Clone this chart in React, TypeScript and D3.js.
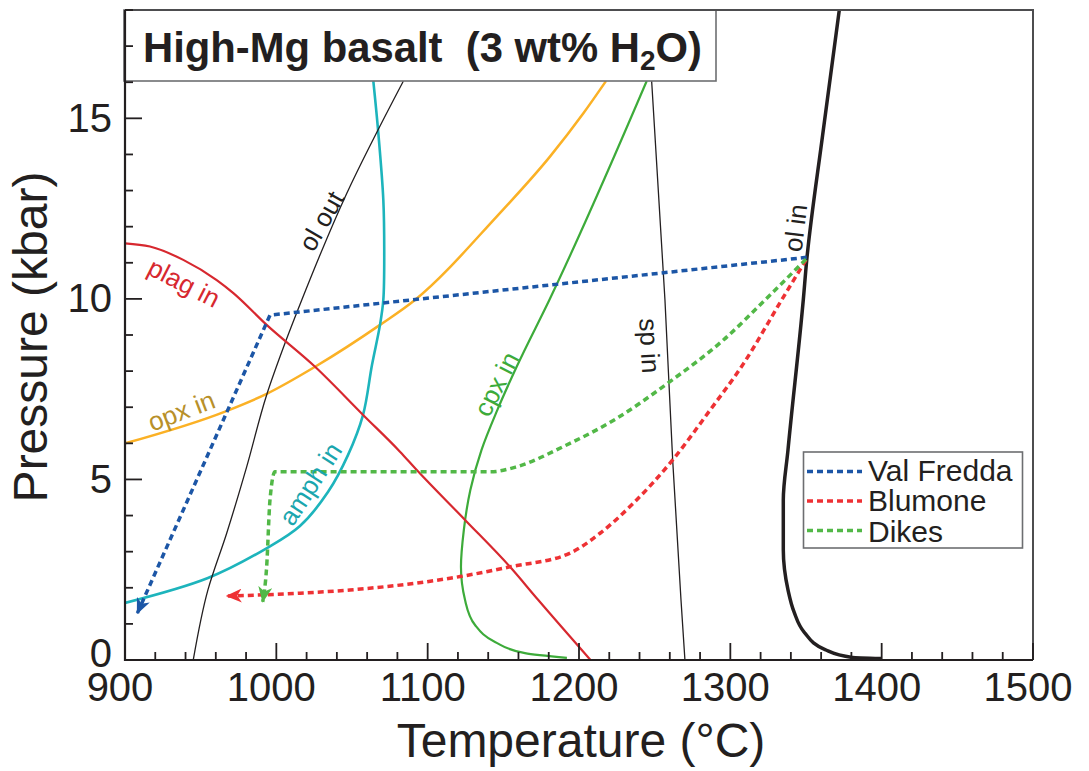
import React from 'react';
import * as d3 from 'd3';

type Pt = [number, number]; // [temperature °C, pressure kbar]

const tempTicks = [900, 1000, 1100, 1200, 1300, 1400, 1500];
const pressTicks = [0, 5, 10, 15];

// phase boundaries
const olIn: Pt[] = [[1372, 18], [1361, 14.54], [1350.5, 11.08], [1348.2, 9.97], [1338.1, 5.82], [1335, 4.43], [1335, 3.05], [1338.1, 1.94], [1342.1, 1.33], [1349, 0.76], [1362.6, 0.29], [1380.7, 0.07], [1400, 0.04]];
const spIn: Pt[] = [[1248, 16.03], [1256.8, 9.97], [1261.9, 5.54], [1267.4, 1.66], [1270, 0]];
const cpxIn: Pt[] = [[1244.7, 16.03], [1180.4, 9.97], [1158.8, 8.12], [1146, 6.92], [1135.6, 5.82], [1128.2, 4.71], [1123.9, 3.6], [1122, 2.58], [1124.7, 1.66], [1131.3, 0.97], [1144.5, 0.5], [1164.3, 0.19], [1192, 0.06]];
const opxIn: Pt[] = [[900, 6.0], [966.1, 6.88], [993.6, 7.37], [1025.6, 8.12], [1068.5, 9.28], [1091.6, 9.97], [1145.6, 12.28], [1180.8, 13.94], [1202.9, 15.14], [1217.8, 16.03]];
const amphIn: Pt[] = [[1064.1, 16.03], [1067.4, 14.59], [1070.7, 12.74], [1071.3, 11.3], [1070.7, 9.97], [1068.5, 9.28], [1063.2, 8.17], [1057.3, 6.79], [1047.4, 5.68], [1034.1, 4.65], [1015.6, 3.71], [993.8, 3.1], [954.8, 2.27], [900, 1.58]];
const olOut: Pt[] = [[1083.9, 16.03], [1046.5, 12.92], [1016.8, 9.97], [1005.7, 8.77], [993.6, 7.34], [980.4, 5.35], [967.2, 3.51], [954.8, 1.94], [945.1, 0]];
const plagIn: Pt[] = [[900, 11.54], [916.5, 11.45], [938.5, 11.08], [960.6, 10.52], [971.6, 10.16], [993.6, 9.28], [1025.6, 8.12], [1057.5, 6.78], [1081.7, 5.77], [1092.8, 5.26], [1124.7, 3.88], [1154.4, 2.58], [1173.1, 1.66], [1207.6, 0]];

// P-T paths
const valFredda: Pt[] = [[1350.5, 11.15], [995.8, 9.55], [908.1, 1.29]];
const blumone: Pt[] = [[1350, 11.08], [1333.9, 9.97], [1308.6, 8.2], [1286.6, 6.92], [1261.9, 5.54], [1235.9, 4.34], [1213.9, 3.51], [1194.1, 2.96], [1154.4, 2.58], [1121.4, 2.31], [1048.7, 1.94], [1015.6, 1.85], [967.2, 1.77]];
const dikes: Pt[] = [[1350, 11.1], [1325.1, 10.06], [1295.4, 8.86], [1260.1, 7.71], [1224.9, 6.69], [1189.6, 5.91], [1158.8, 5.35], [1141.2, 5.21], [999.1, 5.21], [995.8, 4.43], [993.6, 2.58], [991, 1.61]];

const ink = '#231f20';
const cRed = '#d7282f';
const cOrange = '#fbb125';
const cTeal = '#1db4bc';
const cGreen = '#3dab3a';
const cBlue = '#1c56a6';
const cPathRed = '#ee3134';
const cPathGreen = '#52b847';

// 'x' = smooth in temperature, 'y' = smooth in pressure, 'cr' = catmull-rom
const boundaries = [
  { id: 'olIn', data: olIn, color: ink, width: 3.5, along: 'y' },
  { id: 'spIn', data: spIn, color: ink, width: 1.3, along: 'y' },
  { id: 'cpxIn', data: cpxIn, color: cGreen, width: 2.2, along: 'y' },
  { id: 'opxIn', data: opxIn, color: cOrange, width: 2.5, along: 'x' },
  { id: 'amphIn', data: amphIn, color: cTeal, width: 2.6, along: 'cr' },
  { id: 'olOut', data: olOut, color: ink, width: 1.3, along: 'y' },
  { id: 'plagIn', data: plagIn, color: cRed, width: 2.2, along: 'x' },
];

const paths = [
  { name: 'Val Fredda', data: valFredda, color: cBlue, along: 'line', marker: 'arrBlue' },
  { name: 'Blumone', data: blumone, color: cPathRed, along: 'x', marker: 'arrRed' },
  { name: 'Dikes', data: dikes, color: cPathGreen, along: 'x', marker: 'arrGreen' },
];

const curveLabels = [
  { text: 'ol out', t: 1030.8, p: 12.13, angle: -60, color: ink },
  { text: 'plag in', t: 938.5, p: 10.4, angle: 27, color: cRed },
  { text: 'opx in', t: 937.7, p: 6.85, angle: -21, color: '#b8902a' },
  { text: 'amph in', t: 1023.5, p: 4.85, angle: -57, color: '#1aa6ae' },
  { text: 'cpx in', t: 1146.5, p: 7.62, angle: -63, color: cGreen },
  { text: 'sp in', t: 1245.6, p: 8.7, angle: 87, color: ink },
  { text: 'ol in', t: 1344.1, p: 11.96, angle: -83, color: ink },
];

const plot = { left: 125, right: 1033, top: 10, bottom: 660 };
const font = '"Liberation Sans", Arial, Helvetica, sans-serif';

export default function App() {
  const x = d3.scaleLinear().domain([900, 1500]).range([plot.left, plot.right]);
  const y = d3.scaleLinear().domain([0, 18]).range([plot.bottom, plot.top]);

  const gen = (along: string) => {
    const l = d3.line<Pt>().x(d => x(d[0])).y(d => y(d[1]));
    if (along === 'x') return l.curve(d3.curveMonotoneX);
    if (along === 'y') return l.curve(d3.curveMonotoneY);
    if (along === 'cr') return l.curve(d3.curveCatmullRom.alpha(0.5));
    return l;
  };

  const minorT = d3.range(900, 1501, 20);
  const minorP = d3.range(0, 19, 1);

  const arrow = (id: string, color: string) => (
    <marker id={id} viewBox="0 0 16 14" refX={15} refY={7} markerWidth={16} markerHeight={14}
      markerUnits="userSpaceOnUse" orient="auto">
      <path d="M0,0 L16,7 L0,14 L4.5,7 Z" fill={color} />
    </marker>
  );

  return (
    <svg width={1089} height={771} style={{ position: 'absolute', left: 0, top: 0, background: '#fff' }}
      fontFamily={font}>
      <defs>
        <clipPath id="plotClip">
          <rect x={plot.left} y={plot.top} width={plot.right - plot.left} height={plot.bottom - plot.top} />
        </clipPath>
        {arrow('arrBlue', cBlue)}
        {arrow('arrRed', cPathRed)}
        {arrow('arrGreen', cPathGreen)}
      </defs>

      <g clipPath="url(#plotClip)" fill="none">
        {boundaries.map(b => (
          <path key={b.id} d={gen(b.along)(b.data) || ''} stroke={b.color} strokeWidth={b.width} />
        ))}
      </g>

      <g fill="none">
        {paths.map(p => (
          <path key={p.name} d={gen(p.along)(p.data) || ''}
            stroke={p.color} strokeWidth={3.5} strokeDasharray="6 4" markerEnd={`url(#${p.marker})`} />
        ))}
      </g>

      {curveLabels.map(l => (
        <text key={l.text} transform={`translate(${x(l.t)},${y(l.p)}) rotate(${l.angle})`}
          textAnchor="middle" dy="0.28em" fontSize={26} fill={l.color}>{l.text}</text>
      ))}

      {/* title box */}
      <rect x={124} y={plot.top} width={592} height={71} fill="#fff" stroke="#6d6e71" strokeWidth={1.6} />
      <text x={143} y={62} fontSize={41.8} fontWeight="bold" fill={ink} style={{ whiteSpace: 'pre' }}>
        {'High-Mg basalt  (3 wt% H'}
        <tspan fontSize={28} dy={8}>2</tspan>
        <tspan dy={-8}>O)</tspan>
      </text>

      {/* frame */}
      <path d={`M${plot.left},${plot.top}H${plot.right}V${plot.bottom}`} fill="none" stroke="#4d4d4f" strokeWidth={2} />
      <path d={`M${plot.left},${plot.top}V${plot.bottom}H${plot.right}`} fill="none" stroke={ink} strokeWidth={2.2} />

      {/* ticks */}
      {minorT.map(t => {
        const major = t % 100 === 0;
        return <line key={'tx' + t} x1={x(t)} x2={x(t)} y1={plot.bottom} y2={plot.bottom - (major ? 17 : 8)} stroke={ink} strokeWidth={1.8} />;
      })}
      {minorP.map(p => {
        const major = p % 5 === 0;
        return <line key={'ty' + p} x1={plot.left} x2={plot.left + (major ? 17 : 8)} y1={y(p)} y2={y(p)} stroke={ink} strokeWidth={1.8} />;
      })}

      {tempTicks.map(t => (
        <text key={'lx' + t} x={x(t) - 5} y={701} textAnchor="middle" fontSize={40} fill={ink}>{t}</text>
      ))}
      {pressTicks.map(p => (
        <text key={'ly' + p} x={112} y={y(p) + (p === 0 ? 7 : 13.5)} textAnchor="end" fontSize={40} fill={ink}>{p}</text>
      ))}

      <text x={581} y={757} textAnchor="middle" fontSize={48} fill={ink}>Temperature (°C)</text>
      <text transform={`translate(47,337) rotate(-90)`} textAnchor="middle" fontSize={48} fill={ink}>Pressure (kbar)</text>

      {/* legend */}
      <rect x={803.5} y={452} width={219} height={96} fill="#fff" stroke="#6d6e71" strokeWidth={1.6} />
      {paths.map((p, i) => (
        <g key={'lg' + p.name}>
          <line x1={807} x2={862} y1={471.5 + i * 29.5} y2={471.5 + i * 29.5} stroke={p.color} strokeWidth={3.5} strokeDasharray="6 4" />
          <text x={868} y={480.5 + i * 30.5} fontSize={30} fill={ink}>{p.name}</text>
        </g>
      ))}
    </svg>
  );
}
